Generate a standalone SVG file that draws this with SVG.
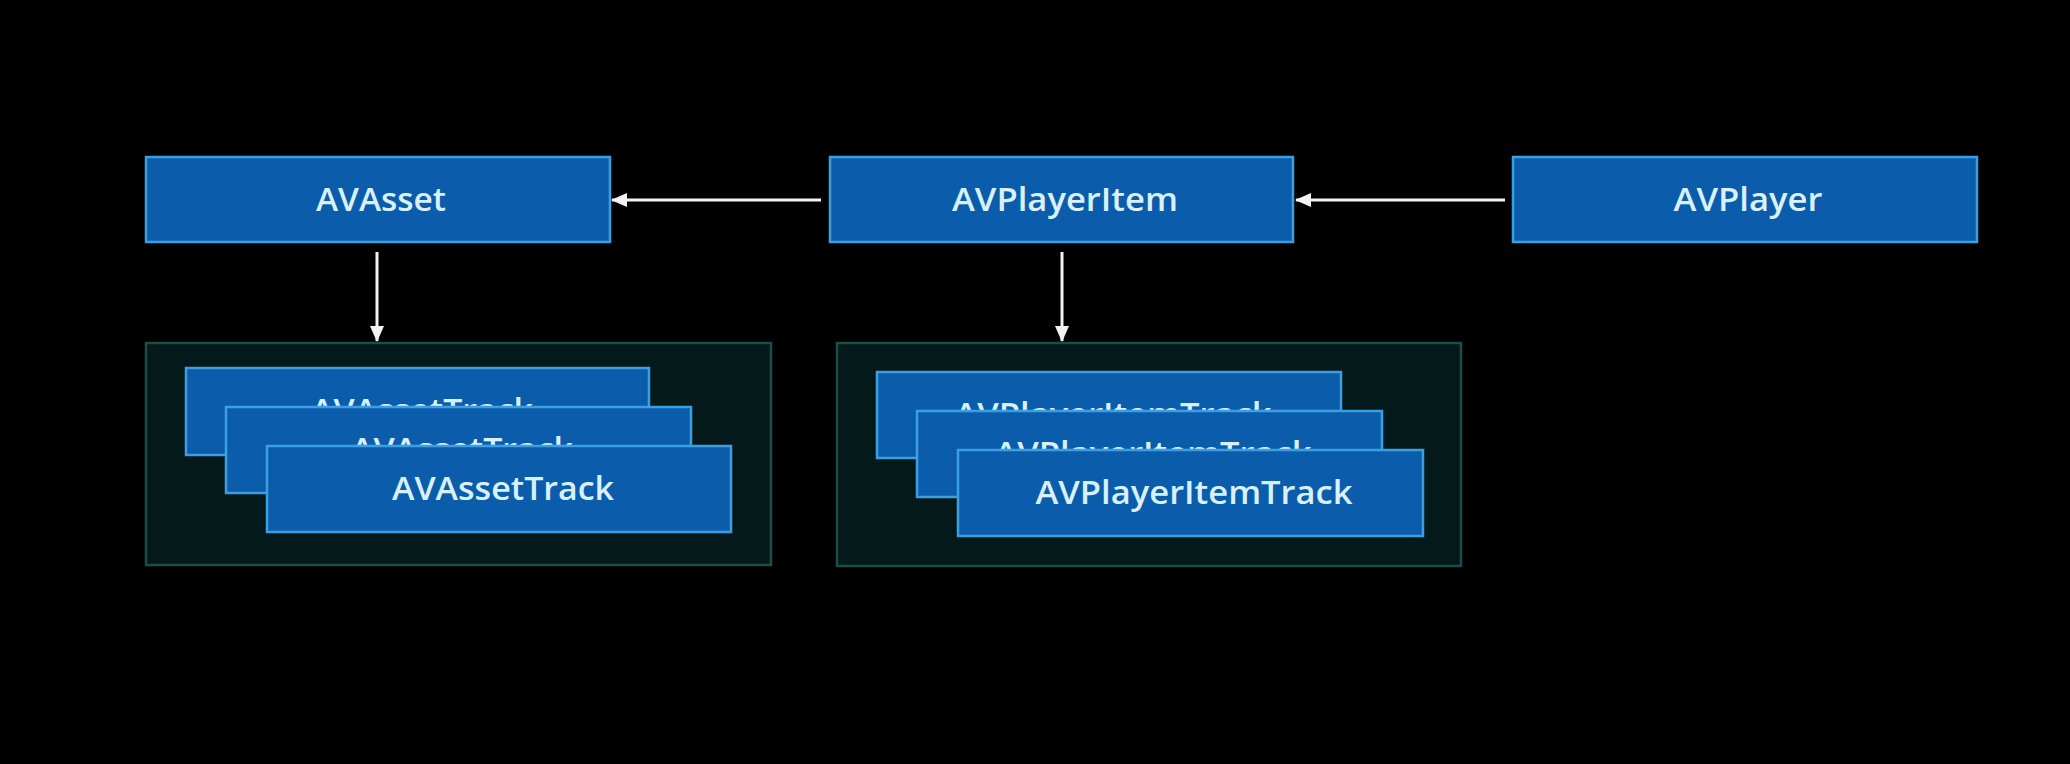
<svg xmlns="http://www.w3.org/2000/svg" width="2070" height="764" viewBox="0 0 2070 764">
<defs>
<style>
.box{fill:#0b5dab;stroke:#3c9fe2;stroke-width:2.5}
.cont{fill:#04191a;stroke:#1c4d48;stroke-width:2.5}
.lbl{font-family:"Open Sans","Liberation Sans",sans-serif;font-size:33px;font-weight:600;fill:#d9f1ff;text-anchor:middle}
.conn{stroke:#f2f2f2;stroke-width:3;fill:none}
</style>
<marker id="ah" viewBox="0 0 16 14" refX="15" refY="7" markerWidth="16" markerHeight="14" markerUnits="userSpaceOnUse" orient="auto">
<path d="M0,0 L16,7 L0,14 Z" fill="#f2f2f2"/>
</marker>
</defs>
<rect width="2070" height="764" fill="#000"/>
<g id="avasset">
<rect class="box" x="146" y="157" width="464" height="85"/>
<text class="lbl" x="381" y="211" textLength="130" lengthAdjust="spacingAndGlyphs">AVAsset</text>
</g>
<g id="avplayeritem">
<rect class="box" x="830" y="157" width="463" height="85"/>
<text class="lbl" x="1065" y="211" textLength="226" lengthAdjust="spacingAndGlyphs">AVPlayerItem</text>
</g>
<g id="avplayer">
<rect class="box" x="1513" y="157" width="464" height="85"/>
<text class="lbl" x="1748" y="211" textLength="149" lengthAdjust="spacingAndGlyphs">AVPlayer</text>
</g>
<g id="assettracks">
<rect class="cont" x="146" y="343" width="625" height="222"/>
<rect class="box" x="186" y="368" width="463" height="87"/>
<text class="lbl" x="422" y="422" textLength="222" lengthAdjust="spacingAndGlyphs">AVAssetTrack</text>
<rect class="box" x="226" y="407" width="465" height="86"/>
<text class="lbl" x="462" y="461" textLength="222" lengthAdjust="spacingAndGlyphs">AVAssetTrack</text>
<rect class="box" x="267" y="446" width="464" height="86"/>
<text class="lbl" x="503" y="500" textLength="222" lengthAdjust="spacingAndGlyphs">AVAssetTrack</text>
</g>
<g id="playeritemtracks">
<rect class="cont" x="837" y="343" width="624" height="223"/>
<rect class="box" x="877" y="372" width="464" height="86"/>
<text class="lbl" x="1113" y="426" textLength="317" lengthAdjust="spacingAndGlyphs">AVPlayerItemTrack</text>
<rect class="box" x="917" y="411" width="465" height="86"/>
<text class="lbl" x="1153" y="465" textLength="317" lengthAdjust="spacingAndGlyphs">AVPlayerItemTrack</text>
<rect class="box" x="958" y="450" width="465" height="86"/>
<text class="lbl" x="1194" y="504" textLength="317" lengthAdjust="spacingAndGlyphs">AVPlayerItemTrack</text>
</g>
<g id="connectors">
<line class="conn" x1="821" y1="200" x2="612" y2="200" marker-end="url(#ah)"/>
<line class="conn" x1="1505" y1="200" x2="1296" y2="200" marker-end="url(#ah)"/>
<line class="conn" x1="377" y1="252" x2="377" y2="341" marker-end="url(#ah)"/>
<line class="conn" x1="1062" y1="252" x2="1062" y2="341" marker-end="url(#ah)"/>
</g>
</svg>
